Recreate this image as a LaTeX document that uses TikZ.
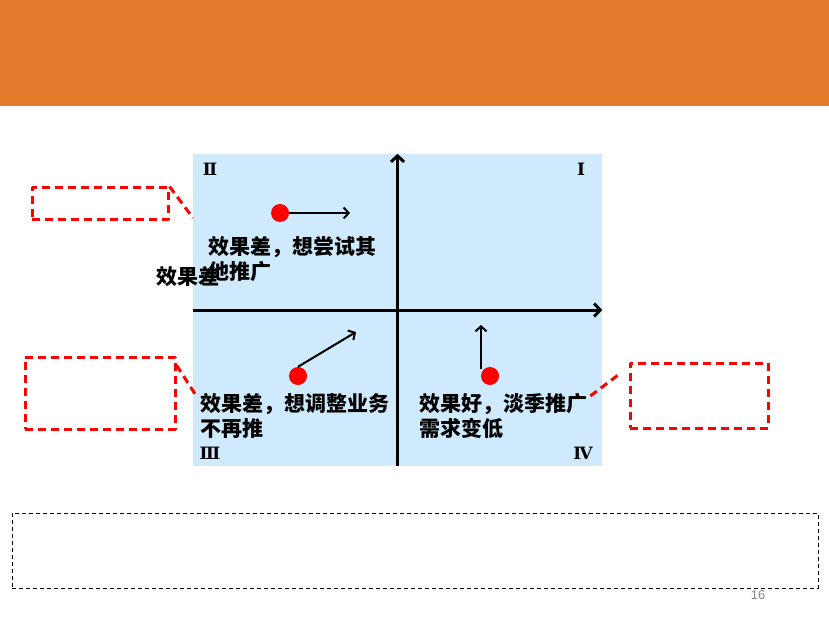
\documentclass[tikz,border=0pt]{standalone}
\usepackage{fontspec}
\setsansfont{Liberation Sans}
\newfontfamily\cjk{Noto Sans CJK SC}
\newfontfamily\lama{DejaVu Serif}
\usetikzlibrary{arrows.meta}
\definecolor{cam}{RGB}{229,123,44}
\definecolor{xanh}{RGB}{206,234,252}
\definecolor{do}{RGB}{255,0,0}
\definecolor{xam}{RGB}{140,140,140}
\begin{document}
\begin{tikzpicture}[x=1pt,y=-1pt,>={Straight Barb[length=6pt,width=13pt]}, line join=round,
	chu/.style={font=\cjk\bfseries\fontsize{21}{25}\selectfont, inner sep=0pt, align=left, anchor=north west},
	la/.style={font=\lama\bfseries\fontsize{17}{17}\selectfont, inner sep=0pt},
	cham/.style={circle, fill=do, minimum size=18pt, inner sep=0pt},
	khung/.style={draw=do, line width=3pt, dash pattern=on 8pt off 5pt},
	muiten/.style={->, line width=2pt, >={Straight Barb[length=5pt,width=11pt]}}]
	\useasboundingbox (0,0) rectangle (829,620);
	\fill[cam] (0,0) rectangle (829,106);
	% mat phang toa do
	\node[fill=xanh, minimum width=409pt, minimum height=312pt, inner sep=0pt] (bang) at (397.5,310) {};
	\draw[->, line width=3pt] (bang.south) -- (bang.north);
	\draw[->, line width=3pt] (bang.west) -- (bang.east);
	\node[la] (g2) at (210,169) {Ⅱ};
	\node[la] (g1) at (581,169) {Ⅰ};
	\node[la] (g3) at (210,453) {Ⅲ};
	\node[la] (g4) at (583,453) {Ⅳ};
	% cac diem
	\node[cham] (c2) at (280,213) {};
	\node[cham] (c3) at (298,376) {};
	\node[cham] (c4) at (490,376) {};
	\coordinate (m2) at (350,213);
	\coordinate (m3) at (356,332);
	\coordinate (m4) at (481,325);
	\draw[muiten] (c2.east) -- (m2);
	\draw[muiten] (c3.north) -- (m3);
	\draw[muiten] (m4 |- c4.135) -- (m4);
	\node[chu] (t2) at (208,236) {效果差，想尝试其\\他推广};
	\node[chu, anchor=west] (t0) at (156,277) {效果差};
	\node[chu] (t3) at (200,393) {效果差，想调整业务\\不再推};
	\node[chu] (t4) at (419,393) {效果好，淡季推广\\需求变低};
	% khung do
	\node[khung, minimum width=136pt, minimum height=32pt] (hop1) at (100,204) {};
	\node[khung, minimum width=150pt, minimum height=72pt] (hop2) at (100,393) {};
	\node[khung, minimum width=138pt, minimum height=65pt] (hop3) at (699,395.5) {};
	\coordinate (d1) at (193,218);
	\coordinate (d2) at (197,397);
	\coordinate (d3) at (589,397);
	\draw[khung] (hop1.north east) -- (d1);
	\draw[khung] (hop2.20) -- (d2);
	\draw[khung] ([shift={(-11pt,20pt)}]hop3.west) -- (d3);
	% ghi chu
	\node[draw, line width=1pt, dash pattern=on 4pt off 3pt, minimum width=806pt, minimum height=75pt] (ghichu) at (415,550.5) {};
	\node[font=\sffamily\fontsize{13}{13}\selectfont, text=xam, inner sep=0pt] (trang) at (758,595) {16};
\end{tikzpicture}
\end{document}
